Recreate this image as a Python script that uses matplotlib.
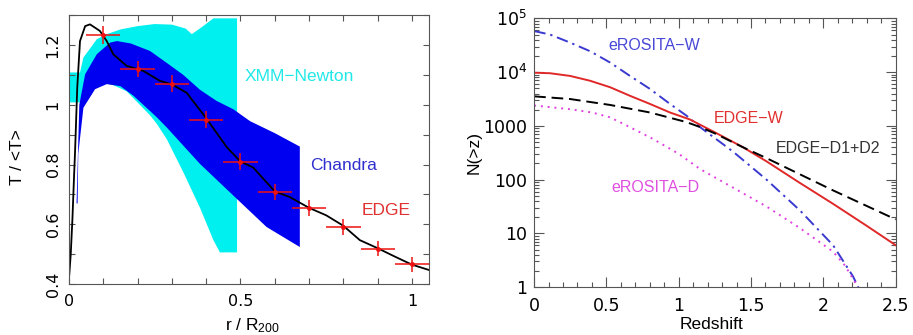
import numpy as np
import matplotlib
matplotlib.use("Agg")
from matplotlib import pyplot as plt
from matplotlib.ticker import MultipleLocator, FixedLocator, FixedFormatter, LogLocator, NullFormatter

plt.rcParams['font.family'] = ['Liberation Sans', 'DejaVu Sans']
plt.rcParams['mathtext.default'] = 'regular'
plt.rcParams['font.size'] = 12.5

# ---- left panel: temperature profiles ----
# XMM-Newton band (cyan)
xmm_x_up = [0.0, 0.032, 0.042, 0.081, 0.11, 0.15, 0.2, 0.25, 0.3, 0.34, 0.358, 0.39, 0.421, 0.49]
xmm_up = [1.108, 1.108, 1.158, 1.219, 1.236, 1.252, 1.263, 1.27, 1.268, 1.255, 1.236, 1.262, 1.289, 1.289]
xmm_x_lo = [0.0, 0.032, 0.05, 0.1, 0.13, 0.168, 0.236, 0.256, 0.285, 0.333, 0.382, 0.421, 0.44, 0.49]
xmm_lo = [1.008, 1.008, 1.09, 1.075, 1.065, 1.045, 0.965, 0.936, 0.885, 0.775, 0.655, 0.547, 0.506, 0.506]

# Chandra band (blue)
ch_x_up = [0.022, 0.03, 0.047, 0.081, 0.12, 0.14, 0.18, 0.236, 0.285, 0.333, 0.382, 0.43, 0.479,
           0.528, 0.6, 0.673]
ch_up = [0.67, 1.0, 1.102, 1.169, 1.208, 1.213, 1.205, 1.18, 1.14, 1.10, 1.05, 1.013, 0.985, 0.945,
         0.905, 0.86]
ch_x_lo = [0.025, 0.027, 0.042, 0.076, 0.11, 0.15, 0.188, 0.256, 0.285, 0.382, 0.494, 0.576, 0.673]
ch_lo = [0.67, 0.836, 0.99, 1.052, 1.069, 1.062, 1.03, 0.958, 0.924, 0.802, 0.68, 0.591, 0.524]

# EDGE simulated points
edge_r = [0.1, 0.2, 0.3, 0.4, 0.5, 0.6, 0.7, 0.8, 0.9, 1.0]
edge_t = [1.233, 1.12, 1.071, 0.95, 0.81, 0.708, 0.654, 0.591, 0.519, 0.466]
edge_dr = [0.05] * 10
edge_dt = [0.03, 0.028, 0.028, 0.028, 0.027, 0.027, 0.026, 0.026, 0.025, 0.025]

# model curve (black)
model_r = [0.0, 0.005, 0.01, 0.0146, 0.0175, 0.024, 0.032, 0.047, 0.061, 0.09, 0.11, 0.129, 0.168,
           0.217, 0.265, 0.3, 0.343, 0.4, 0.46, 0.5, 0.537, 0.6, 0.644, 0.7, 0.75, 0.8,
           0.848, 0.9, 0.95, 1.0, 1.05]
model_t = [0.42, 0.5, 0.62, 0.76, 0.84, 1.058, 1.213, 1.263, 1.269, 1.247, 1.213, 1.169, 1.13,
           1.113, 1.08, 1.068, 1.04, 0.955, 0.858, 0.81, 0.79, 0.71, 0.691, 0.655, 0.63,
           0.595, 0.547, 0.52, 0.492, 0.465, 0.447]

# ---- right panel: cumulative counts, log10 N(>z) ----
erw_z = [0.0, 0.11, 0.249, 0.387, 0.525, 0.663, 0.80, 0.939, 1.054, 1.146, 1.376, 1.607, 1.837,
         2.067, 2.205, 2.25]
erw_logn = [4.765, 4.70, 4.55, 4.39, 4.18, 3.93, 3.69, 3.41, 3.19, 2.98, 2.52, 2.0, 1.43,
            0.78, 0.2, -0.05]

edgew_z = [0.0, 0.11, 0.249, 0.387, 0.525, 0.663, 0.80, 0.939, 1.077, 1.25, 1.446, 1.607, 1.837,
           2.067, 2.3, 2.5]
edgew_logn = [3.99, 3.98, 3.93, 3.84, 3.72, 3.56, 3.41, 3.25, 3.12, 2.88, 2.60, 2.34, 1.94,
              1.55, 1.14, 0.78]

edged_z = [0.0, 0.249, 0.525, 0.80, 1.054, 1.146, 1.25, 1.446, 1.607, 1.837, 2.067, 2.3, 2.5]
edged_logn = [3.55, 3.50, 3.39, 3.25, 3.07, 2.98, 2.86, 2.60, 2.40, 2.10, 1.80, 1.51, 1.26]

erd_z = [0.0, 0.249, 0.4, 0.525, 0.66, 0.82, 1.0, 1.146, 1.376, 1.607, 1.837, 2.067, 2.15, 2.25]
erd_logn = [3.38, 3.31, 3.25, 3.16, 2.98, 2.76, 2.48, 2.20, 1.85, 1.50, 1.10, 0.66, 0.4, -0.05]

ytick_vals = [1, 10, 100, 1000, 1e4, 1e5]
ytick_labels = ['1', '10', '100', '1000', '10$^4$', '10$^5$']

fig = plt.figure(figsize=(9.13, 3.35), dpi=100)
axis_grey = '#555555'
tick_font = ['DejaVu Sans']

# left axes
ax1 = fig.add_axes([0.0756, 0.152, 0.3944, 0.803])
ax1.fill(np.concatenate([xmm_x_up, xmm_x_lo[::-1]]), np.concatenate([xmm_up, xmm_lo[::-1]]),
         color='#00f0f0', lw=0)
ax1.fill(np.concatenate([ch_x_up, ch_x_lo[::-1]]), np.concatenate([ch_up, ch_lo[::-1]]),
         color='#0000f0', lw=0)
ax1.plot(model_r, model_t, color='black', lw=1.3)
ax1.errorbar(edge_r, edge_t, xerr=edge_dr, yerr=edge_dt, fmt='o', color='#ee1111',
             ms=2.5, elinewidth=1.1, capsize=0)
ax1.text(0.513, 1.093, 'XMM\u2212Newton', color='#20e8e8', va='center', ha='left')
ax1.text(0.703, 0.797, 'Chandra', color='#3030d0', va='center', ha='left')
ax1.text(0.853, 0.647, 'EDGE', color='#e03030', va='center', ha='left')
ax1.set_xlim(0, 1.05)
ax1.set_ylim(0.4, 1.3)
ax1.xaxis.set_major_locator(FixedLocator([0, 0.5, 1.0]))
ax1.xaxis.set_major_formatter(FixedFormatter(['0', '0.5', '1']))
ax1.xaxis.set_minor_locator(MultipleLocator(0.1))
ax1.yaxis.set_major_locator(FixedLocator([0.4, 0.6, 0.8, 1.0, 1.2]))
ax1.yaxis.set_major_formatter(FixedFormatter(['0.4', '0.6', '0.8', '1', '1.2']))
ax1.yaxis.set_minor_locator(MultipleLocator(0.1))
ax1.tick_params(which='both', direction='in', top=True, right=True, length=4, width=0.8,
                color=axis_grey)
ax1.tick_params(axis='x', pad=7)
ax1.tick_params(axis='y', labelrotation=90, pad=6)
for lab in ax1.get_xticklabels() + ax1.get_yticklabels():
    lab.set_family(tick_font)
    lab.set_fontsize(11.5)
for lab in ax1.get_yticklabels():
    lab.set_va('center')
ax1.set_xlabel('r / R$_{200}$', va='top')
ax1.xaxis.set_label_coords(0.508, -0.118)
ax1.set_ylabel('T / <T>', va='bottom')
ax1.yaxis.set_label_coords(-0.122, 0.472)
for s in ax1.spines.values():
    s.set_color(axis_grey)

# right axes
ax2 = fig.add_axes([0.585, 0.143, 0.396, 0.802])
ax2.plot(erw_z, 10 ** np.array(erw_logn), color='#3a3ad0', lw=1.4, ls=(0, (6, 2.5, 1.2, 2.5)))
ax2.plot(edgew_z, 10 ** np.array(edgew_logn), color='#e02828', lw=1.4)
ax2.plot(edged_z, 10 ** np.array(edged_logn), color='black', lw=1.4, ls=(0, (6, 3)))
ax2.plot(erd_z, 10 ** np.array(erd_logn), color='#e040e0', lw=1.4, ls=(0, (1, 2.5)))
ax2.text(0.83, 10 ** 4.49, 'eROSITA\u2212W', color='#4848d8', ha='center', va='center', fontsize=11.5)
ax2.text(1.48, 10 ** 3.13, 'EDGE\u2212W', color='#e03030', ha='center', va='center', fontsize=11.5)
ax2.text(2.03, 10 ** 2.57, 'EDGE\u2212D1+D2', color='#333333', ha='center', va='center', fontsize=11.5)
ax2.text(0.84, 10 ** 1.86, 'eROSITA\u2212D', color='#e050e0', ha='center', va='center', fontsize=11.5)
ax2.set_yscale('log')
ax2.set_xlim(0, 2.5)
ax2.set_ylim(1, 1e5)
ax2.xaxis.set_major_locator(FixedLocator([0, 0.5, 1, 1.5, 2, 2.5]))
ax2.xaxis.set_major_formatter(FixedFormatter(['0', '0.5', '1', '1.5', '2', '2.5']))
ax2.xaxis.set_minor_locator(MultipleLocator(0.1))
ax2.yaxis.set_major_locator(FixedLocator(ytick_vals))
ax2.yaxis.set_major_formatter(FixedFormatter(ytick_labels))
ax2.yaxis.set_minor_locator(LogLocator(base=10, subs=np.arange(2, 10)))
ax2.yaxis.set_minor_formatter(NullFormatter())
ax2.tick_params(which='major', direction='in', top=True, right=True, length=7, width=0.8,
                color=axis_grey)
ax2.tick_params(which='minor', direction='in', top=True, right=True, length=3.5, width=0.8,
                color=axis_grey)
ax2.tick_params(axis='x', which='major', pad=7)
ax2.tick_params(axis='y', which='major', pad=5)
for lab in ax2.get_xticklabels() + ax2.get_yticklabels():
    lab.set_family(tick_font)
    lab.set_fontsize(12.5)
ax2.set_xlabel('Redshift', va='top')
ax2.xaxis.set_label_coords(0.49, -0.112)
ax2.set_ylabel('N(>z)', va='bottom')
ax2.yaxis.set_label_coords(-0.145, 0.5)
for s in ax2.spines.values():
    s.set_color(axis_grey)

fig.savefig('out.png', dpi=100)
